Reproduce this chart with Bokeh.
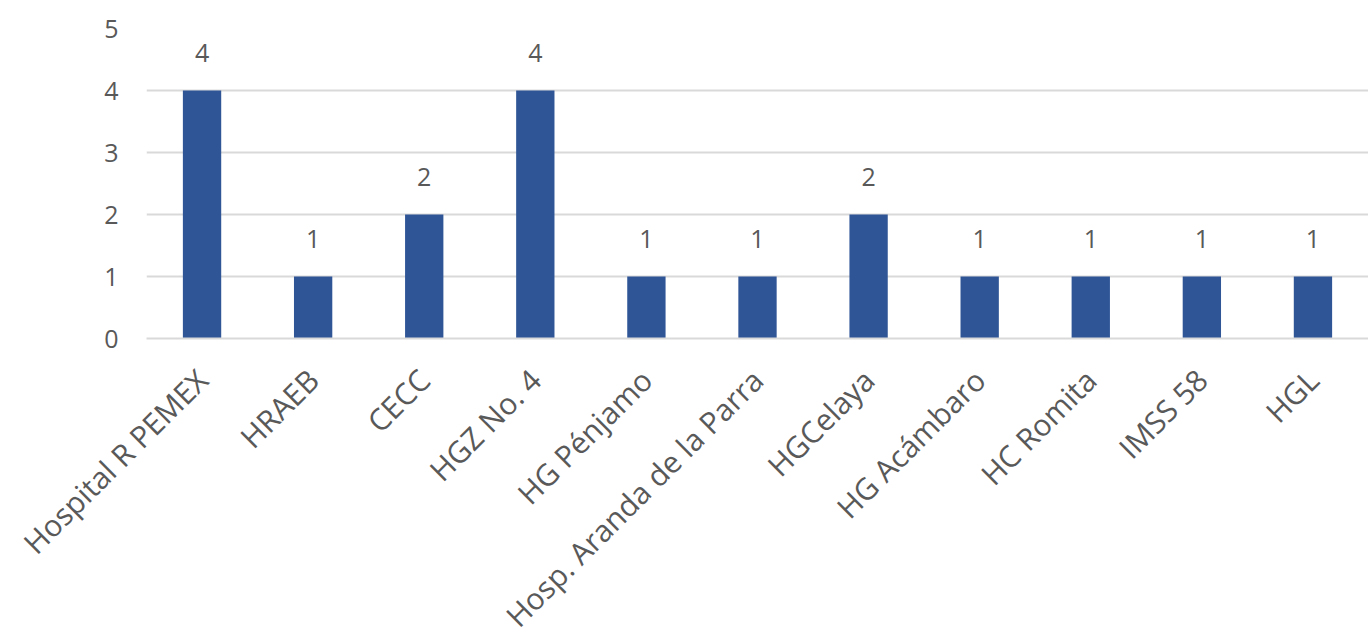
from bokeh.plotting import figure
from bokeh.models import ColumnDataSource, FixedTicker
from bokeh.core.properties import value
from bokeh.embed import file_html
from bokeh.resources import INLINE
import math

categories = ["Hospital R PEMEX", "HRAEB", "CECC", "HGZ No. 4", "HG Pénjamo",
              "Hosp. Aranda de la Parra", "HGCelaya", "HG Acámbaro", "HC Romita",
              "IMSS 58", "HGL"]
counts = [4, 1, 2, 4, 1, 1, 2, 1, 1, 1, 1]
y_ticks = [0, 1, 2, 3, 4, 5]

FONT = "Open Sans"
TXT = "#595959"
GRID = "#D9D9D9"
BAR = "#2F5597"

src = ColumnDataSource(dict(cat=categories, val=counts, lab=[str(v) for v in counts]))

p = figure(x_range=categories, y_range=(0, 5),
           frame_width=1222, frame_height=310,
           output_backend="svg", toolbar_location=None,
           min_border_left=146, min_border_right=0, min_border_top=28, min_border_bottom=10)
p.outline_line_color = None
p.background_fill_color = "white"
p.border_fill_color = "white"

p.vbar(x="cat", top="val", width=0.345, bottom=0, source=src, color=BAR, line_color=None)
p.text(x="cat", y="val", text="lab", source=src, text_align="center",
       text_baseline="alphabetic", y_offset=-38, text_font=value(FONT),
       text_font_size="25px", text_color=TXT)

p.xgrid.grid_line_color = None
p.ygrid.grid_line_color = GRID
p.ygrid.grid_line_width = 2
p.yaxis.ticker = FixedTicker(ticks=y_ticks)

p.yaxis.axis_line_color = None
p.yaxis.major_tick_line_color = None
p.yaxis.minor_tick_line_color = None
p.yaxis.major_label_standoff = 22
p.yaxis.major_label_text_font = FONT
p.yaxis.major_label_text_font_size = "25px"
p.yaxis.major_label_text_color = TXT

p.xaxis.axis_line_color = GRID
p.xaxis.axis_line_width = 2
p.xaxis.major_tick_line_color = None
p.xaxis.minor_tick_line_color = None
p.xaxis.major_label_orientation = math.pi / 4
p.xaxis.major_label_standoff = 30
p.xaxis.major_label_text_font = FONT
p.xaxis.major_label_text_font_size = "30px"
p.xaxis.major_label_text_color = TXT
p.x_range.range_padding = 0

open("out.html", "w").write(file_html(p, INLINE))
